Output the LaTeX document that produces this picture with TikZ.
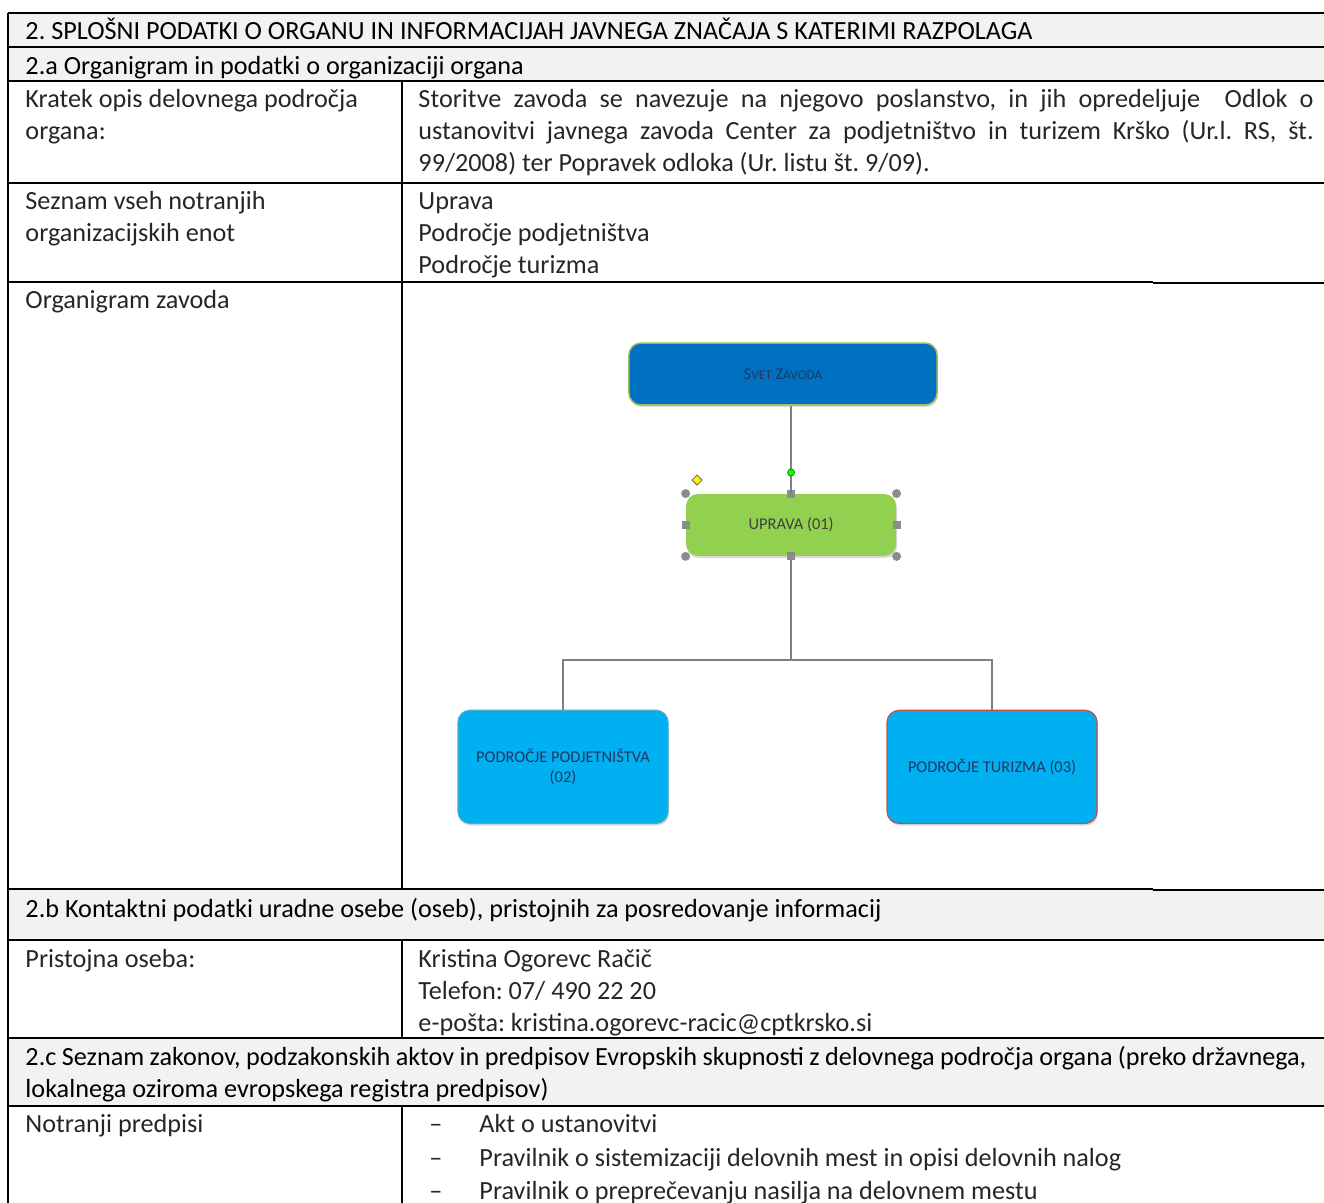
\documentclass[tikz,border=0pt]{standalone}
\usepackage{fontspec}
\setmainfont{Carlito}
\usetikzlibrary{shadows}
\definecolor{hdrgray}{HTML}{F2F2F2}
\definecolor{svetblue}{HTML}{0070C0}
\definecolor{svetrim}{HTML}{9BBB59}
\definecolor{upgreen}{HTML}{92D050}
\definecolor{podblue}{HTML}{00B0F0}
\definecolor{podrim}{HTML}{4BACC6}
\definecolor{turrim}{HTML}{C0504D}
\definecolor{navy}{HTML}{1F3864}
\definecolor{linegray}{HTML}{808080}
\definecolor{handlegray}{HTML}{8C8C8C}
\frenchspacing
\begin{document}
\begin{tikzpicture}[x=0.42pt,y=-0.42pt,
	txt/.style={anchor=base west,inner sep=0pt,align=left,text=black!85,font=\fontsize{11}{13.44}\selectfont},
	hdr/.style={txt,text=black},
	rule/.style={line width=0.84pt},
	box/.style={rectangle,rounded corners=5pt,minimum width=88.2pt,inner sep=2pt,align=center,
		font=\fontsize{6.9}{8.4}\selectfont,text=navy,
		drop shadow={shadow xshift=0.4pt,shadow yshift=-0.9pt,opacity=0.3}},
	svet/.style={box,fill=svetblue,draw=svetrim,line width=0.6pt,minimum width=129.4pt,minimum height=26pt},
	uprava/.style={box,fill=upgreen,text=black!75,minimum height=26pt},
	podrocje/.style={box,fill=podblue,line width=0.5pt,minimum height=47.5pt},
	edge from parent/.style={draw=linegray,line width=0.84pt},
	level 1/.style={level distance=63.4pt,
		edge from parent path={(\tikzparentnode.south -| \tikzchildnode.north) -- (\tikzchildnode.north)}},
	level 2/.style={level distance=101.6pt,sibling distance=180.2pt,
		edge from parent path={(\tikzparentnode.south) -- ++(0,104) -| (\tikzchildnode.north)}}]
\useasboundingbox (0,0) rectangle (1324,1203);
% table
\fill[hdrgray] (8,13) rectangle (1324,81);
\fill[hdrgray] (8,889) rectangle (1324,940);
\fill[hdrgray] (8,1038) rectangle (1324,1106);
\draw[rule] (8,13) -- (1324,13) (8,47) -- (1324,47) (8,81) -- (1324,81)
	(8,183) -- (1324,183) (8,282) -- (1153,282) (8,889) -- (1153,889)
	(8,940) -- (1324,940) (8,1038) -- (1324,1038) (8,1106) -- (1324,1106);
\draw[rule] (1153,283) -- (1324,283) (1153,890) -- (1324,890);
\draw[rule] (8,13) -- (8,1203);
\draw[line width=0.7pt] (402,81) -- (402,889) (402,940) -- (402,1038) (402,1106) -- (402,1203);

% multi-line texts sit on the baseline of their last line
\node[hdr] (naslov) at (25,40) {2. SPLOŠNI PODATKI O ORGANU IN INFORMACIJAH JAVNEGA ZNAČAJA S KATERIMI RAZPOLAGA};
\node[hdr] (naslova) at (25,74) {2.a Organigram in podatki o organizaciji organa};
\node[txt] (kratek) at (25,139) {Kratek opis delovnega področja\\organa:};
\node[txt] (opis1) at (418,107) {\makebox[376pt][s]{Storitve zavoda se navezuje na njegovo poslanstvo, in jih opredeljuje \ Odlok o}};
\node[txt] (opis2) at (418,139) {\makebox[376pt][s]{ustanovitvi javnega zavoda Center za podjetništvo in turizem Krško (Ur.l. RS, št.}};
\node[txt] (opis3) at (418,171) {99/2008) ter Popravek odloka (Ur. listu št. 9/09).};
\node[txt] (seznam) at (25,241) {Seznam vseh notranjih\\organizacijskih enot};
\node[txt] (enote) at (418,273) {Uprava\\Področje podjetništva\\Področje turizma};
\node[txt] (organigram) at (25,308) {Organigram zavoda};
\node[hdr] (naslovb) at (25,917) {2.b Kontaktni podatki uradne osebe (oseb), pristojnih za posredovanje informacij};
\node[txt] (pristojna) at (25,967) {Pristojna oseba:};
\node[txt] (kontakt) at (418,1031) {Kristina Ogorevc Račič\\Telefon: 07/ 490 22 20\\e-pošta: kristina.ogorevc-racic@cptkrsko.si};
\node[hdr] (naslovc) at (25,1065) {\makebox[538pt][s]{2.c Seznam zakonov, podzakonskih aktov in predpisov Evropskih skupnosti z delovnega področja organa (preko državnega,}};
\node[hdr] (naslovc2) at (25,1097) {lokalnega oziroma evropskega registra predpisov)};
\node[txt] (notranji) at (25,1132) {Notranji predpisi};
\node[txt] (pomisljaj1) at (429,1132) {–};
\node[txt] (akt) at (479,1132) {Akt o ustanovitvi};
\node[txt] (pomisljaj2) at (429,1166) {–};
\node[txt] (sistemizacija) at (479,1166) {Pravilnik o sistemizaciji delovnih mest in opisi delovnih nalog};
\node[txt] (pomisljaj3) at (429,1199) {–};
\node[txt] (nasilje) at (479,1199) {Pravilnik o preprečevanju nasilja na delovnem mestu};

% organigram
\node[svet] (svet) at (783,374) {S{\fontsize{5.6}{6}\selectfont VET} Z{\fontsize{5.6}{6}\selectfont AVODA}}
child { node[uprava,xshift=3.4pt] (uprava) {UPRAVA (01)}
	child { node[podrocje,draw=podrim,xshift=-5.7pt] (podjetnistvo) {PODROČJE PODJETNIŠTVA\\(02)} }
	child { node[podrocje,draw=turrim,xshift=-5.7pt] (turizem) {PODROČJE TURIZMA (03)} }
};

% selection handles
\foreach \a in {north west,north east,south west,south east}
	\fill[handlegray] (uprava.\a) circle (4.5);
\foreach \a in {north,south,east,west}
	\fill[handlegray] (uprava.\a) ++(-4,-4) rectangle ++(8,8);
\draw[linegray,line width=0.6pt] (uprava.north) -- ++(0,-21);
\filldraw[fill=green!90!lime,draw=green!50!black,line width=0.3pt] (uprava.north) ++(0,-21) circle (3.5);
\filldraw[fill=yellow,draw=black!60,line width=0.3pt] (697,475) -- (702,480) -- (697,485) -- (692,480) -- cycle;
\end{tikzpicture}
\end{document}
